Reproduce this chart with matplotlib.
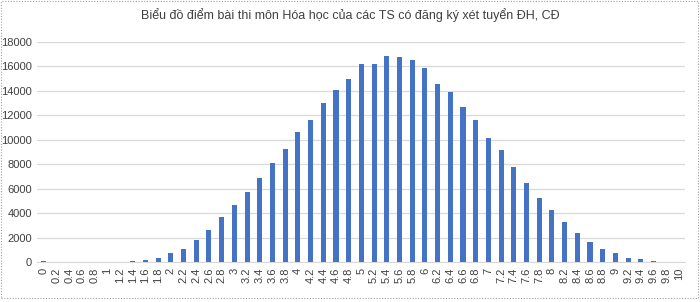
import matplotlib
matplotlib.use("Agg")
import matplotlib.pyplot as plt
from matplotlib.patches import Rectangle

# diem thi Hoa hoc, buoc 0.2
diem = [round(i * 0.2, 1) for i in range(51)]
nhan = ["%g" % d for d in diem]
so_ts = [100, 0, 0, 0, 0, 0, 0, 80, 150, 350,
         735, 1085, 1820, 2640, 3670, 4650, 5710, 6855, 8130, 9220,
         10660, 11615, 13000, 14090, 14990, 16190, 16190, 16840, 16730, 16540,
         15890, 14580, 13900, 12700, 11615, 10170, 9140, 7780, 6500, 5220,
         4270, 3265, 2365, 1680, 1085, 735, 350, 245, 110, 0,
         0]
yticks = list(range(0, 18001, 2000))

plt.rcParams['font.family'] = ['Liberation Sans', 'DejaVu Sans']

fig = plt.figure(figsize=(7, 3.02), dpi=100)
ax = fig.add_axes([0.0535, 0.1315, 0.9255, 0.7305])

x = range(len(diem))
ax.bar(x, so_ts, width=0.4, color='#4472C4', zorder=3)

ax.set_xlim(-0.5, len(diem) - 0.5)
ax.set_ylim(0, 18000)
ax.set_yticks(yticks)
ax.set_yticklabels([str(v) for v in yticks], fontsize=8, color='#404040')
ax.set_xticks(list(x))
ax.set_xticklabels(nhan, rotation=90, fontsize=8, color='#404040')
ax.tick_params(axis='y', length=0, pad=4)
ax.tick_params(axis='x', length=0, pad=4)
ax.grid(axis='y', color='#D9D9D9', linewidth=0.9, zorder=0)
for s in ['top', 'right', 'left']:
    ax.spines[s].set_visible(False)
ax.spines['bottom'].set_color('#D9D9D9')

fig.text(0.5, 0.95, "Biểu đồ điểm bài thi môn Hóa học của các TS có đăng ký xét tuyển ĐH, CĐ",
         ha='center', va='center', fontsize=9, color='#404040')

# vien cham cua khung bieu do
fig.patches.append(Rectangle((0.001, 0.012), 0.996, 0.986, transform=fig.transFigure,
                             fill=False, edgecolor='#A0A0A0', linestyle=(0, (1, 1.5)), linewidth=0.8))

fig.savefig("out.png", dpi=100)
